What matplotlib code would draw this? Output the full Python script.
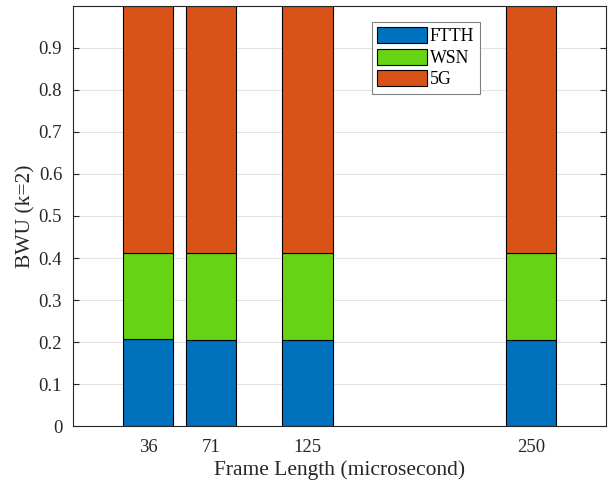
import matplotlib
matplotlib.use("Agg")
import matplotlib.pyplot as plt
import numpy as np

frame_lengths = [36, 71, 125, 250]
ftth = [0.207, 0.206, 0.205, 0.206]
wsn = [0.206, 0.205, 0.206, 0.207]
g5 = [0.587, 0.589, 0.589, 0.587]
series_names = ["FTTH", "WSN", "5G"]
colors = ["#0072BD", "#66D415", "#D95319"]
yticks = [0, 0.1, 0.2, 0.3, 0.4, 0.5, 0.6, 0.7, 0.8, 0.9]

plt.rcParams['font.family'] = ['Liberation Serif', 'DejaVu Serif']

fig = plt.figure(figsize=(6.15, 4.87), dpi=100)
ax = fig.add_axes([0.1192, 0.125, 0.8662, 0.863])

x = np.array(frame_lengths, dtype=float)
bottom = np.zeros(len(x))
for vals, name, c in zip([ftth, wsn, g5], series_names, colors):
    ax.bar(x, vals, width=28, bottom=bottom, color=c, edgecolor='black',
           linewidth=0.8, label=name, zorder=2)
    bottom += np.array(vals)

ax.set_xlim(-6, 292)
ax.set_ylim(0, 1.0)
ax.set_xticks(frame_lengths)
ax.set_xticklabels([str(v) for v in frame_lengths])
ax.set_yticks(yticks)
ax.set_yticklabels([("0" if v == 0 else f"{v:.1f}") for v in yticks])
ax.yaxis.grid(True, color='#e3e3e3', linewidth=0.8, zorder=0)
ax.set_axisbelow(True)
ax.tick_params(direction='in', top=True, right=True, labelsize=13.5, length=4,
               width=0.8, colors='#262626')
ax.tick_params(axis='x', pad=9)
ax.tick_params(axis='y', pad=8)
for s in ax.spines.values():
    s.set_color('#262626')
    s.set_linewidth(0.8)

ax.set_xlabel("Frame Length (microsecond)", fontsize=15.5, color='#262626', labelpad=3)
ax.set_ylabel("BWU (k=2)", fontsize=15.5, color='#262626', labelpad=2)

leg = ax.legend(loc='upper left', bbox_to_anchor=(0.561, 0.962), borderaxespad=0,
                fontsize=12.8, handlelength=2.8, handleheight=1.0, labelspacing=0.2,
                handletextpad=0.15, borderpad=0.3, fancybox=False, framealpha=1)
leg.get_frame().set_edgecolor('#808080')
leg.get_frame().set_linewidth(0.8)

fig.savefig("out.png", dpi=100)
